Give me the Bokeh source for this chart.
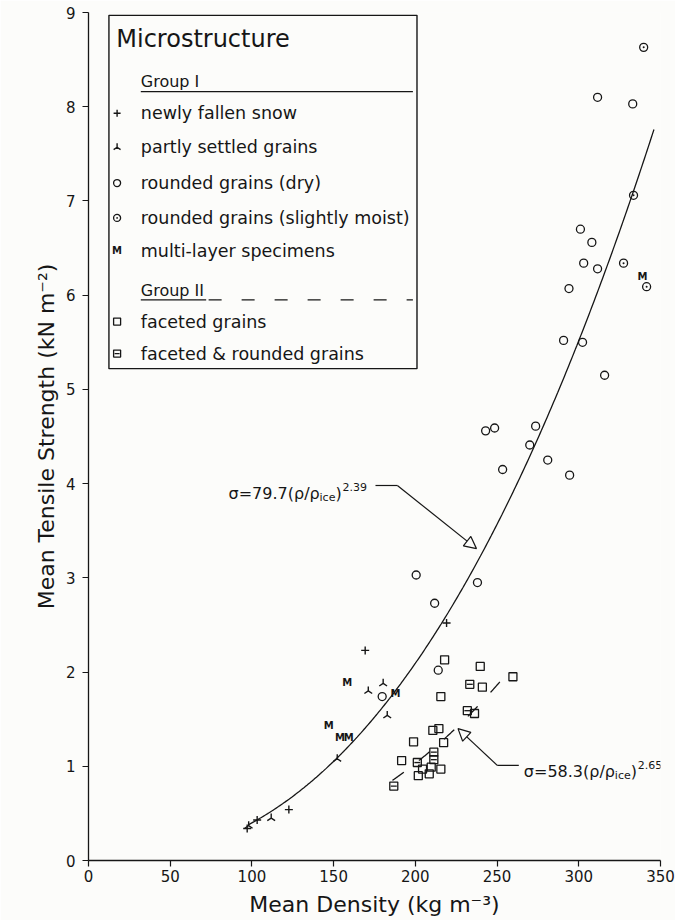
import numpy as np
from bokeh.plotting import figure
from bokeh.models import BoxAnnotation, Label, Arrow, NormalHead, FixedTicker, Range1d
from bokeh.core.properties import value
from bokeh.embed import file_html
from bokeh.resources import INLINE

# ---------------- data ----------------
x_ticks = [0, 50, 100, 150, 200, 250, 300, 350]
y_ticks = [0, 1, 2, 3, 4, 5, 6, 7, 8, 9]

# Group I
snow_x = [97.1, 103.2, 122.6, 169.3, 219.1]
snow_y = [0.34, 0.43, 0.54, 2.23, 2.52]

partly_x = [98.0, 111.8, 152.2, 171.2, 180.3, 182.8]
partly_y = [0.37, 0.45, 1.08, 1.80, 1.88, 1.54]

dry_x = [311.5, 333.0, 301.0, 308.0, 303.0, 311.5, 294.0, 290.7, 302.3, 315.8,
         243.0, 248.5, 273.6, 270.0, 253.4, 281.0, 294.4, 200.5, 238.0, 211.8,
         214.0, 179.7]
dry_y = [8.10, 8.03, 6.70, 6.56, 6.34, 6.28, 6.07, 5.52, 5.50, 5.15,
         4.56, 4.59, 4.61, 4.41, 4.15, 4.25, 4.09, 3.03, 2.95, 2.73,
         2.02, 1.74]

moist_x = [339.7, 333.5, 327.4, 341.5]
moist_y = [8.63, 7.06, 6.34, 6.09]

multi_x = [147.0, 153.8, 159.3, 158.3, 187.9, 338.9]
multi_y = [1.43, 1.31, 1.31, 1.89, 1.77, 6.20]

# Group II
facet_x = [217.9, 239.7, 259.7, 241.0, 215.6, 236.2, 210.7, 214.4, 198.9, 217.3,
           191.6, 209.7, 215.6, 204.4, 201.8, 208.5]
facet_y = [2.13, 2.06, 1.95, 1.84, 1.74, 1.56, 1.38, 1.40, 1.26, 1.25,
           1.06, 0.99, 0.97, 0.97, 0.90, 0.92]

facround_x = [233.3, 231.8, 211.3, 211.3, 201.2, 186.8]
facround_y = [1.87, 1.59, 1.15, 1.07, 1.04, 0.79]

# fitted relations sigma = a (rho/rho_ice)^b
RHO_ICE = 917.0
fit1_a, fit1_b, fit1_from, fit1_to = 79.7, 2.39, 98.0, 346.0
fit2_a, fit2_b, fit2_from, fit2_to = 58.3, 2.65, 186.0, 256.0

legend_title = "Microstructure"
legend_group1 = "Group I"
legend_group2 = "Group II"
legend_labels = ["newly fallen snow", "partly settled grains", "rounded grains (dry)",
                 "rounded grains (slightly moist)", "multi-layer specimens",
                 "faceted grains", "faceted & rounded grains"]

# ---------------- styling ----------------
INK = "#161616"
BG = "#fcfcfa"
FONT = "DejaVu Sans"

p = figure(width=675, height=920, x_range=Range1d(0, 350), y_range=Range1d(0, 9),
           output_backend="svg", toolbar_location=None,
           min_border_left=88, min_border_right=15, min_border_top=12, min_border_bottom=60,
           background_fill_color=BG, border_fill_color=BG)
p.outline_line_color = None
p.grid.visible = False

for ax in (p.xaxis[0], p.yaxis[0]):
    ax.axis_line_color = INK
    ax.axis_line_width = 1.3
    ax.major_tick_line_color = INK
    ax.major_tick_line_width = 1.2
    ax.major_tick_out = 6
    ax.major_tick_in = 0
    ax.minor_tick_line_color = None
    ax.major_label_text_font = FONT
    ax.major_label_text_font_size = "15px"
    ax.major_label_text_color = INK
    ax.axis_label_text_font = FONT
    ax.axis_label_text_font_size = "22px"
    ax.axis_label_text_font_style = "normal"
    ax.axis_label_text_color = INK

p.xaxis.ticker = FixedTicker(ticks=x_ticks)
p.yaxis.ticker = FixedTicker(ticks=y_ticks)
p.xaxis.axis_label = "Mean Density (kg m\u207b\u00b3)"
p.yaxis.axis_label = "Mean Tensile Strength (kN m\u207b\u00b2)"
p.xaxis.major_label_standoff = 3
p.xaxis.axis_label_standoff = 7
p.yaxis.major_label_standoff = 7
p.yaxis.axis_label_standoff = 4


def draw(kind, xs, ys, s=8):
    if kind == "snow":
        p.scatter(xs, ys, marker="cross", size=s, line_color=INK, line_width=1.4)
    elif kind == "partly":
        p.scatter(xs, ys, marker="y", angle=np.pi, size=s + 1, line_color=INK, line_width=1.4)
    elif kind == "dry":
        p.scatter(xs, ys, marker="circle", size=s, fill_color=None, line_color=INK, line_width=1.3)
    elif kind == "moist":
        p.scatter(xs, ys, marker="circle_dot", size=s, fill_color=None, line_color=INK, line_width=1.3)
    elif kind == "multi":
        p.text(xs, ys, text=["M"] * len(xs), text_font=value(FONT), text_font_style="bold",
               text_font_size="10px", text_align="center", text_baseline="middle", text_color=INK)
    elif kind == "facet":
        p.scatter(xs, ys, marker="square", size=s, fill_color=None, line_color=INK, line_width=1.3)
    elif kind == "facround":
        p.scatter(xs, ys, marker="square", size=s, fill_color=None, line_color=INK, line_width=1.3)
        p.scatter(xs, ys, marker="dash", size=s - 2, line_color=INK, line_width=1.3)


# fitted curves
rho1 = np.linspace(fit1_from, fit1_to, 300)
p.line(rho1, fit1_a * (rho1 / RHO_ICE) ** fit1_b, line_color=INK, line_width=1.3)
rho2 = np.linspace(fit2_from, fit2_to, 200)
p.line(rho2, fit2_a * (rho2 / RHO_ICE) ** fit2_b, line_color=INK, line_width=1.3,
       line_dash="14 19")

# data points
draw("snow", snow_x, snow_y)
draw("partly", partly_x, partly_y)
draw("dry", dry_x, dry_y)
draw("moist", moist_x, moist_y)
draw("multi", multi_x, multi_y)
draw("facet", facet_x, facet_y)
draw("facround", facround_x, facround_y)

# ---------------- legend (manual, to keep group headings/underlines) ----------------
p.add_layout(BoxAnnotation(left=12.5, right=201.0, top=8.97, bottom=5.22,
                           fill_alpha=0, line_color=INK, line_alpha=1.0, line_width=1.4))
p.add_layout(Label(x=17.0, y=8.72, text=legend_title, text_font=FONT, text_font_size="24px",
                   text_baseline="middle", text_color=INK))
p.add_layout(Label(x=32.0, y=8.27, text=legend_group1, text_font=FONT, text_font_size="16px",
                   text_baseline="middle", text_color=INK))
p.segment(x0=[32.0], y0=[8.16], x1=[198.5], y1=[8.16], line_color=INK, line_width=1.3)
p.add_layout(Label(x=32.0, y=6.05, text=legend_group2, text_font=FONT, text_font_size="16px",
                   text_baseline="middle", text_color=INK))
p.segment(x0=[32.0], y0=[5.95], x1=[72.0], y1=[5.95], line_color=INK, line_width=1.3)
p.segment(x0=[73.5], y0=[5.95], x1=[198.5], y1=[5.95], line_color=INK, line_width=1.3,
          line_dash="13 20")

kinds = ["snow", "partly", "dry", "moist", "multi", "facet", "facround"]
rows_y = [7.93, 7.57, 7.19, 6.82, 6.47, 5.72, 5.38]
for k, lab, yy in zip(kinds, legend_labels, rows_y):
    draw(k, [17.5], [yy], s=7)
    p.add_layout(Label(x=32.0, y=yy, text=lab, text_font=FONT, text_font_size="17.5px",
                       text_baseline="middle", text_color=INK))


# ---------------- equation annotations ----------------
def equation(x, y, coef, expo):
    p.add_layout(Label(x=x, y=y, text="\u03c3=" + coef + "(\u03c1/\u03c1", text_font=FONT,
                       text_font_size="16px", text_color=INK, text_baseline="alphabetic"))
    p.add_layout(Label(x=x, y=y, x_offset=91, y_offset=-4, text="ice", text_font=FONT,
                       text_font_size="11px", text_color=INK, text_baseline="alphabetic"))
    p.add_layout(Label(x=x, y=y, x_offset=107, text=")", text_font=FONT,
                       text_font_size="16px", text_color=INK, text_baseline="alphabetic"))
    p.add_layout(Label(x=x, y=y, x_offset=114, y_offset=7, text=expo, text_font=FONT,
                       text_font_size="11px", text_color=INK, text_baseline="alphabetic"))


equation(85.7, 3.89, "79.7", "2.39")
equation(266.4, 0.94, "58.3", "2.65")

head_kw = dict(size=12, fill_color=BG, line_color=INK, line_width=1.2)
p.segment(x0=[175.6, 250.1], y0=[3.98, 1.01], x1=[189.0, 263.3], y1=[3.98, 1.01],
          line_color=INK, line_width=1.2)
p.add_layout(Arrow(end=NormalHead(**head_kw), x_start=189.0, y_start=3.98,
                   x_end=237.4, y_end=3.31, line_color=INK, line_width=1.2))
p.add_layout(Arrow(end=NormalHead(**head_kw), x_start=250.1, y_start=1.01,
                   x_end=226.1, y_end=1.40, line_color=INK, line_width=1.2))

open("out.html", "w").write(file_html(p, INLINE))
